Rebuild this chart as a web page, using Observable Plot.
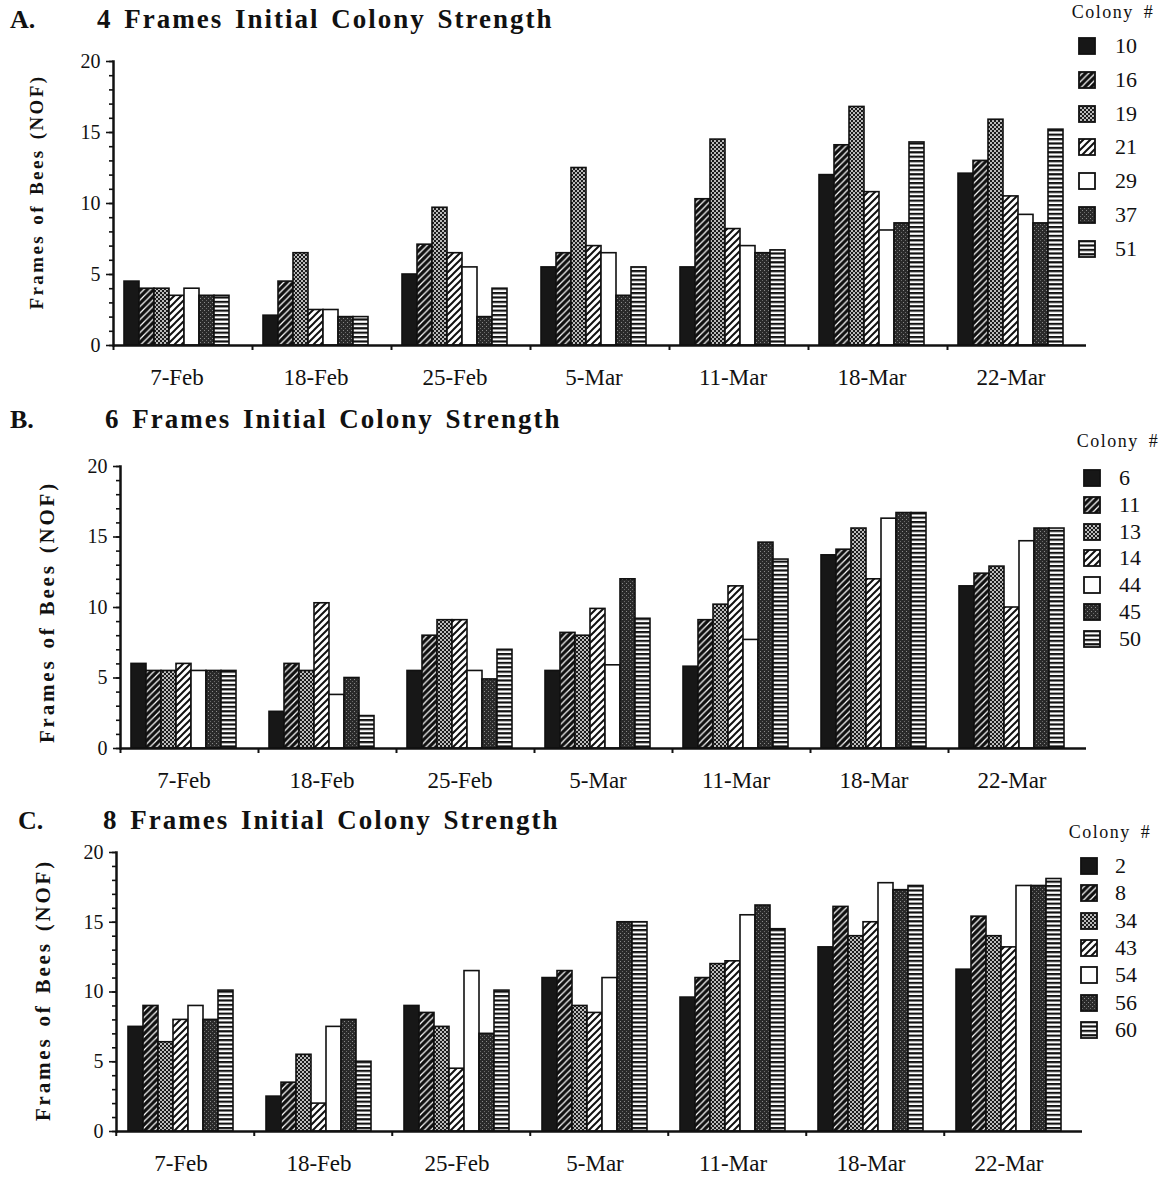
<!DOCTYPE html>
<html><head><meta charset="utf-8">
<script src="https://cdn.jsdelivr.net/npm/d3@7"></script>
<script src="https://cdn.jsdelivr.net/npm/@observablehq/plot@0.6"></script>
<style>
body{margin:0;background:#fff;}
#page{position:relative;width:1170px;height:1179px;overflow:hidden;font-family:'Times New Roman','Liberation Serif',serif;color:#111;}
.abs{position:absolute;white-space:nowrap;line-height:1;}
.letter{font-weight:bold;font-size:26px;}
.title{font-weight:bold;font-size:27px;letter-spacing:2px;word-spacing:3px;}
.ylab{font-weight:bold;font-size:19px;letter-spacing:2.4px;word-spacing:2px;transform:translate(-50%,-50%) rotate(-90deg);}
.ltitle{font-size:18px;letter-spacing:1.5px;word-spacing:4px;transform:translate(-50%,-50%);}
.lnum{font-size:22px;transform:translateY(-50%);}
.sw{transform:translateY(-50%);}
</style></head><body>
<svg width="0" height="0" style="position:absolute">
<defs>
<pattern id="pat-ddiag" patternUnits="userSpaceOnUse" width="6.5" height="6.5">
<rect width="6.5" height="6.5" fill="#101010"/>
<path d="M0,6.5L6.5,0M-1,1L1,-1M5.5,7.5L7.5,5.5" stroke="#fff" stroke-width="1.2"/>
</pattern>
<pattern id="pat-check" patternUnits="userSpaceOnUse" width="4" height="4">
<rect width="4" height="4" fill="#1c1c1c"/>
<circle cx="1" cy="1" r="0.95" fill="#fff"/>
<circle cx="3" cy="3" r="0.95" fill="#fff"/>
</pattern>
<pattern id="pat-ldiag" patternUnits="userSpaceOnUse" width="7" height="7">
<rect width="7" height="7" fill="#fff"/>
<path d="M0,7L7,0M-1,1L1,-1M6,8L8,6" stroke="#111" stroke-width="2"/>
</pattern>
<pattern id="pat-ddots" patternUnits="userSpaceOnUse" width="4" height="4">
<rect width="4" height="4" fill="#2a2a2a"/>
<rect x="0" y="0" width="1" height="1" fill="#8a8a8a"/>
<rect x="2" y="2" width="1" height="1" fill="#6a6a6a"/>
</pattern>
<pattern id="pat-hstripe" patternUnits="userSpaceOnUse" width="4" height="4.4">
<rect width="4" height="4.4" fill="#fff"/>
<rect y="0" width="4" height="2.2" fill="#111"/>
</pattern>
</defs>
</svg>
<div id="page"></div>
<script>
// ---------- data ----------
const dates = ["7-Feb", "18-Feb", "25-Feb", "5-Mar", "11-Mar", "18-Mar", "22-Mar"];

const coloniesA = ["10", "16", "19", "21", "29", "37", "51"];
const valuesA = [
  [4.5, 2.1, 5.0, 5.5, 5.5, 12.0, 12.1],
  [4.0, 4.5, 7.1, 6.5, 10.3, 14.1, 13.0],
  [4.0, 6.5, 9.7, 12.5, 14.5, 16.8, 15.9],
  [3.5, 2.5, 6.5, 7.0, 8.2, 10.8, 10.5],
  [4.0, 2.5, 5.5, 6.5, 7.0, 8.1, 9.2],
  [3.5, 2.0, 2.0, 3.5, 6.5, 8.6, 8.6],
  [3.5, 2.0, 4.0, 5.5, 6.7, 14.3, 15.2]
];

const coloniesB = ["6", "11", "13", "14", "44", "45", "50"];
const valuesB = [
  [6.0, 2.6, 5.5, 5.5, 5.8, 13.7, 11.5],
  [5.5, 6.0, 8.0, 8.2, 9.1, 14.1, 12.4],
  [5.5, 5.5, 9.1, 8.0, 10.2, 15.6, 12.9],
  [6.0, 10.3, 9.1, 9.9, 11.5, 12.0, 10.0],
  [5.5, 3.8, 5.5, 5.9, 7.7, 16.3, 14.7],
  [5.5, 5.0, 4.9, 12.0, 14.6, 16.7, 15.6],
  [5.5, 2.3, 7.0, 9.2, 13.4, 16.7, 15.6]
];

const coloniesC = ["2", "8", "34", "43", "54", "56", "60"];
const valuesC = [
  [7.5, 2.5, 9.0, 11.0, 9.6, 13.2, 11.6],
  [9.0, 3.5, 8.5, 11.5, 11.0, 16.1, 15.4],
  [6.4, 5.5, 7.5, 9.0, 12.0, 14.0, 14.0],
  [8.0, 2.0, 4.5, 8.5, 12.2, 15.0, 13.2],
  [9.0, 7.5, 11.5, 11.0, 15.5, 17.8, 17.6],
  [8.0, 8.0, 7.0, 15.0, 16.2, 17.3, 17.6],
  [10.1, 5.0, 10.1, 15.0, 14.5, 17.6, 18.1]
];

const titles = ["4 Frames Initial Colony Strength", "6 Frames Initial Colony Strength", "8 Frames Initial Colony Strength"];
const letters = ["A.", "B.", "C."];
const yLabel = "Frames of Bees (NOF)";
const legendTitle = "Colony #";
const yTicks = [0, 5, 10, 15, 20];
const yMinorTicks = [0, 1, 2, 3, 4, 5, 6, 7, 8, 9, 10, 11, 12, 13, 14, 15, 16, 17, 18, 19, 20];

// ---------- styles ----------
const fills = ["#171717", "url(#pat-ddiag)", "url(#pat-check)", "url(#pat-ldiag)", "#ffffff", "url(#pat-ddots)", "url(#pat-hstripe)"];
const serif = "'Times New Roman','Liberation Serif',serif";

const panels = [
  {colonies: coloniesA, values: valuesA, svgTop: 50, axisX: 113, step: 139, insetL: 10, insetR: 22, plotH: 284, mb: 50, labelPad: 23,
   letterPos: [10, 7], titlePos: [97, 6], yLab: [36, 192, 0], legTitle: [1113, 12], legStart: 46, legStep: 33.8, swX: 1078, numX: 1115},
  {colonies: coloniesB, values: valuesB, svgTop: 455, axisX: 120, step: 138, insetL: 11, insetR: 22, plotH: 282, mb: 50, labelPad: 23,
   letterPos: [10, 407], titlePos: [105, 406], yLab: [47, 612, 1], legTitle: [1118, 441], legStart: 478, legStep: 26.8, swX: 1083, numX: 1119},
  {colonies: coloniesC, values: valuesC, svgTop: 841, axisX: 114, step: 138.5, insetL: 12, insetR: 21, plotH: 279, mb: 45, labelPad: 23,
   letterPos: [18, 808], titlePos: [103, 807], yLab: [43, 990, 1], legTitle: [1110, 832], legStart: 866, legStep: 27.3, swX: 1080, numX: 1115}
];

const page = document.getElementById("page");
function addDiv(cls, text, left, top) {
  const d = document.createElement("div");
  d.className = "abs " + cls;
  d.textContent = text;
  d.style.left = left + "px";
  d.style.top = top + "px";
  page.appendChild(d);
  return d;
}

panels.forEach((p, k) => {
  const rows = [];
  p.colonies.forEach((c, i) => dates.forEach((d, j) => rows.push({date: d, colony: c, value: p.values[i][j]})));
  const width = 1170;
  const marginTop = 11;
  const marginRight = width - (p.axisX + 7 * p.step);
  const height = marginTop + p.plotH + p.mb;
  const labelDx = p.insetL + (p.step - p.insetL - p.insetR) / 2 - p.step / 2;
  const chart = Plot.plot({
    width, height,
    marginLeft: p.axisX, marginRight, marginTop, marginBottom: p.mb,
    style: {fontFamily: serif, color: "#111", background: "transparent", overflow: "visible"},
    fx: {domain: dates, padding: 0, axis: null},
    x: {domain: p.colonies, padding: 0, insetLeft: p.insetL, insetRight: p.insetR, axis: null},
    y: {domain: [0, 20], axis: null},
    color: {domain: p.colonies, range: fills},
    marks: [
      Plot.barY(rows, {fx: "date", x: "colony", y: "value", fill: "colony", stroke: "#111", strokeWidth: 1.6}),
      Plot.ruleY([0], {stroke: "#111", strokeWidth: 2.5}),
      Plot.frame({anchor: "left", facetAnchor: "left", stroke: "#111", strokeWidth: 2.5}),
      Plot.axisY({ticks: yMinorTicks, tickSize: 4, text: null, label: null, strokeWidth: 1.6}),
      Plot.axisY({ticks: yTicks, tickSize: 7, tickPadding: 6, label: null, fontSize: 20, strokeWidth: 1.6}),
      Plot.axisFx({anchor: "bottom", text: null, label: null, tickSize: 5, dx: -p.step / 2, strokeWidth: 2}),
      Plot.axisFx({anchor: "bottom", tickSize: 0, label: null, tickPadding: p.labelPad, dx: labelDx, fontSize: 23})
    ]
  });
  chart.style.position = "absolute";
  chart.style.left = "0px";
  chart.style.top = p.svgTop + "px";
  page.appendChild(chart);

  addDiv("letter", letters[k], p.letterPos[0], p.letterPos[1]);
  addDiv("title", titles[k], p.titlePos[0], p.titlePos[1]);
  const yl = addDiv("ylab", yLabel, p.yLab[0], p.yLab[1]);
  if (p.yLab[2]) { yl.style.fontSize = "21px"; yl.style.letterSpacing = "2.8px"; }
  addDiv("ltitle", legendTitle, p.legTitle[0], p.legTitle[1]);
  p.colonies.forEach((c, i) => {
    const y = p.legStart + i * p.legStep;
    const sw = document.createElementNS("http://www.w3.org/2000/svg", "svg");
    sw.setAttribute("width", 18); sw.setAttribute("height", 18);
    sw.setAttribute("class", "sw");
    sw.style.position = "absolute"; sw.style.left = p.swX + "px"; sw.style.top = y + "px";
    const r = document.createElementNS("http://www.w3.org/2000/svg", "rect");
    r.setAttribute("x", 1); r.setAttribute("y", 1); r.setAttribute("width", 16); r.setAttribute("height", 16);
    r.setAttribute("fill", fills[i]); r.setAttribute("stroke", "#111"); r.setAttribute("stroke-width", 1.8);
    sw.appendChild(r);
    page.appendChild(sw);
    addDiv("lnum", c, p.numX, y);
  });
});
</script>
</body></html>
